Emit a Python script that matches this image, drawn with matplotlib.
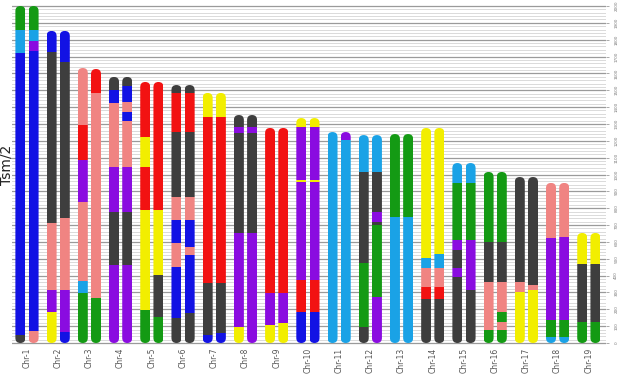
import numpy as np
import matplotlib
matplotlib.use("Agg")
import matplotlib.pyplot as plt
from matplotlib.patches import FancyBboxPatch

# colours of the painted segments
colors = {
    "blue": "#1212e4",
    "lblue": "#1aa2e6",
    "green": "#149a14",
    "purple": "#8a0ce0",
    "dgray": "#3e3e3e",
    "salmon": "#f08482",
    "red": "#f21212",
    "yellow": "#f2ee00",
}

chr_names = ["Chr-%d" % i for i in range(1, 20)]

# each homolog: (colour, upper bound) from the bottom up
chr1_a = [("dgray", 47), ("blue", 1721), ("lblue", 1858), ("green", 2000)]
chr1_b = [("salmon", 71), ("blue", 1730), ("purple", 1795), ("lblue", 1858), ("green", 2000)]
chr2_a = [("yellow", 184), ("purple", 315), ("salmon", 712), ("dgray", 1727), ("blue", 1852)]
chr2_b = [("blue", 65), ("purple", 315), ("salmon", 742), ("dgray", 1668), ("blue", 1852)]
chr3_a = [("green", 297), ("lblue", 370), ("salmon", 837), ("purple", 1086), ("red", 1294), ("salmon", 1632)]
chr3_b = [("green", 267), ("salmon", 1484), ("red", 1626)]
chr4_a = [("purple", 463), ("dgray", 777), ("purple", 1045), ("salmon", 1424), ("blue", 1500), ("dgray", 1579)]
chr4_b = [("purple", 463), ("dgray", 777), ("purple", 1045), ("salmon", 1320), ("blue", 1370),
          ("salmon", 1430), ("blue", 1525), ("dgray", 1579)]
chr5_a = [("green", 196), ("yellow", 789), ("red", 1045), ("yellow", 1223), ("red", 1549)]
chr5_b = [("green", 154), ("dgray", 404), ("yellow", 789), ("red", 1549)]
chr6_a = [("dgray", 148), ("blue", 451), ("salmon", 593), ("blue", 730), ("salmon", 867),
          ("dgray", 1252), ("red", 1484), ("dgray", 1531)]
chr6_b = [("dgray", 178), ("blue", 522), ("salmon", 570), ("blue", 730), ("salmon", 867),
          ("dgray", 1252), ("red", 1484), ("dgray", 1531)]
chr7_a = [("blue", 47), ("dgray", 356), ("red", 1341), ("yellow", 1484)]
chr7_b = [("blue", 59), ("dgray", 356), ("red", 1341), ("yellow", 1484)]
chr8_a = [("yellow", 95), ("purple", 653), ("dgray", 1246), ("purple", 1282), ("dgray", 1353)]
chr8_b = [("purple", 653), ("dgray", 1246), ("purple", 1282), ("dgray", 1353)]
chr9_a = [("yellow", 107), ("purple", 297), ("red", 1276)]
chr9_b = [("yellow", 119), ("purple", 297), ("red", 1276)]
chr10_a = [("blue", 184), ("red", 374), ("purple", 955), ("yellow", 968), ("purple", 1282), ("yellow", 1335)]
chr10_b = [("blue", 184), ("red", 374), ("purple", 955), ("yellow", 968), ("purple", 1282), ("yellow", 1335)]
chr11_a = [("lblue", 1252)]
chr11_b = [("lblue", 1205), ("purple", 1252)]
chr12_a = [("dgray", 95), ("green", 475), ("dgray", 1015), ("lblue", 1234)]
chr12_b = [("purple", 273), ("green", 700), ("dgray", 720), ("purple", 780), ("dgray", 1015), ("lblue", 1234)]
chr13_a = [("lblue", 748), ("green", 1240)]
chr13_b = [("lblue", 748), ("green", 1240)]
chr14_a = [("dgray", 261), ("red", 332), ("salmon", 445), ("lblue", 506), ("yellow", 1276)]
chr14_b = [("dgray", 261), ("red", 332), ("salmon", 445), ("lblue", 530), ("yellow", 1276)]
chr15_a = [("dgray", 392), ("purple", 445), ("dgray", 552), ("purple", 611), ("green", 950), ("lblue", 1068)]
chr15_b = [("dgray", 315), ("purple", 611), ("green", 950), ("lblue", 1068)]
chr16_a = [("green", 77), ("salmon", 362), ("dgray", 600), ("green", 1015)]
chr16_b = [("green", 77), ("salmon", 125), ("green", 184), ("salmon", 362), ("dgray", 600), ("green", 1015)]
chr17_a = [("yellow", 303), ("salmon", 362), ("dgray", 985)]
chr17_b = [("yellow", 315), ("salmon", 344), ("dgray", 985)]
chr18_a = [("lblue", 36), ("green", 136), ("purple", 623), ("salmon", 950)]
chr18_b = [("lblue", 36), ("green", 136), ("purple", 629), ("salmon", 950)]
chr19_a = [("green", 125), ("dgray", 469), ("yellow", 653)]
chr19_b = [("green", 125), ("dgray", 469), ("yellow", 653)]

homologs = [
    (chr1_a, chr1_b), (chr2_a, chr2_b), (chr3_a, chr3_b), (chr4_a, chr4_b),
    (chr5_a, chr5_b), (chr6_a, chr6_b), (chr7_a, chr7_b), (chr8_a, chr8_b),
    (chr9_a, chr9_b), (chr10_a, chr10_b), (chr11_a, chr11_b), (chr12_a, chr12_b),
    (chr13_a, chr13_b), (chr14_a, chr14_b), (chr15_a, chr15_b), (chr16_a, chr16_b),
    (chr17_a, chr17_b), (chr18_a, chr18_b), (chr19_a, chr19_b),
]

y_ticks = np.arange(0, 2001, 100)

W, H = 621, 378
fig = plt.figure(figsize=(W / 100, H / 100), dpi=100)
ax_left, ax_right = 12, 606
ylo, yhi = -15, 2020
ax_top = 6 - (yhi - 2000) * 0.1685
ax_bot = 343 + (0 - ylo) * 0.1685
ax = fig.add_axes([ax_left / W, 1 - ax_bot / H, (ax_right - ax_left) / W, (ax_bot - ax_top) / H])

xlo, xhi = 0.52, 19.55
ax.set_xlim(xlo, xhi)
ax.set_ylim(ylo, yhi)

# grid
for v in np.arange(0, 2001, 20):
    major = v % 100 == 0
    ax.axhline(v, color="#9a9a9a" if major else "#d4d4d4", lw=0.9 if major else 0.6, zorder=0)

px_x = (ax_right - ax_left) / (xhi - xlo)
px_y = (ax_bot - ax_top) / (yhi - ylo)
w = 10 / px_x
off = 6.6 / px_x
aspect = px_x / px_y

for i, pair in enumerate(homologs):
    xc = i + 1
    for k, segs in enumerate(pair):
        x = xc - off if k == 0 else xc + off
        top = segs[-1][1]
        clip = FancyBboxPatch((x - w / 2, 0), w, top,
                              boxstyle="round,pad=0,rounding_size=%f" % (w / 2),
                              mutation_aspect=aspect, fill=False, lw=0)
        ax.add_patch(clip)
        lower = 0
        for cname, upper in segs:
            bars = ax.bar(x, upper - lower, bottom=lower, width=w, color=colors[cname],
                          linewidth=0, zorder=2)
            for b in bars:
                b.set_clip_path(clip)
            lower = upper

for i, name in enumerate(chr_names):
    ax.text(i + 1, -28, name, rotation=90, ha="center", va="top", fontsize=5.5, color="#555555")

for sp in ax.spines.values():
    sp.set_visible(False)
ax.set_xticks([])
ax.yaxis.tick_right()
ax.set_yticks(y_ticks)
ax.set_yticklabels(["%d" % v for v in y_ticks], rotation=90, fontsize=3, color="#777777", va="center")
ax.tick_params(axis="y", length=2, width=0.5, color="#888888", pad=4)

fig.text(7 / W, 1 - 165 / H, "Tsm/2", rotation=90, ha="center", va="center", fontsize=10, color="#222222")

fig.savefig("out.png", dpi=100)
